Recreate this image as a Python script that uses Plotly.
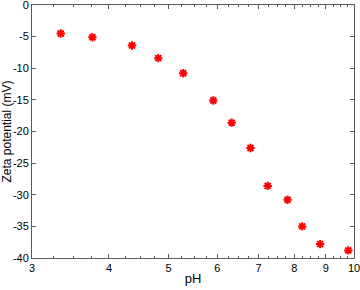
import plotly.graph_objects as go

# data
ph = [3.34, 3.76, 4.36, 4.81, 5.28, 5.91, 6.33, 6.79, 7.24, 7.80, 8.24, 8.81, 9.79]
zeta = [-4.5, -5.1, -6.4, -8.4, -10.8, -15.1, -18.6, -22.6, -28.6, -30.8, -35.0, -37.8, -38.8]

x_ticks = [3, 4, 5, 6, 7, 8, 9, 10]
x_minor = [3 + 0.25 * i for i in range(29) if i % 4 != 0]
y_ticks = [0, -5, -10, -15, -20, -25, -30, -35, -40]
y_labels = ["0", "-5", "-10", "-15", "-20", "-25", "-30", "-35", "-40"]

fig = go.Figure()
fig.add_trace(go.Scatter(
    x=ph, y=zeta, mode="markers",
    marker=dict(symbol="asterisk-open", size=7, color="red",
                line=dict(color="red", width=2)),
))

axis_common = dict(
    showline=True, linecolor="#5a5a5a", linewidth=1, mirror="ticks",
    ticks="inside", ticklen=4, tickcolor="#5a5a5a", tickwidth=1,
    showgrid=False, zeroline=False, automargin=False,
    ticklabeloverflow="allow",
    tickfont=dict(family="Liberation Sans, Arial", size=11, color="black"),
)

fig.update_xaxes(
    type="log", range=[0.4771, 1.0],
    tickvals=x_ticks, ticktext=[str(v) for v in x_ticks],
    minor=dict(tickvals=x_minor, ticks="inside", ticklen=2, tickcolor="#5a5a5a"),
    title=dict(text="pH", font=dict(family="Liberation Sans, Arial", size=13, color="black"), standoff=0),
    **axis_common,
)
fig.update_yaxes(
    range=[-40, 0],
    tickvals=y_ticks, ticktext=y_labels,
    title=dict(text="Zeta potential (mV)", font=dict(family="Liberation Sans, Arial", size=12, color="black"), standoff=2),
    **axis_common,
)

fig.update_layout(
    width=360, height=290,
    margin=dict(l=32, r=6, t=5, b=32),
    plot_bgcolor="white", paper_bgcolor="white",
    showlegend=False,
)

fig.write_html("out.html", config={"displayModeBar": False},
               post_script="document.body.style.margin='0';")
